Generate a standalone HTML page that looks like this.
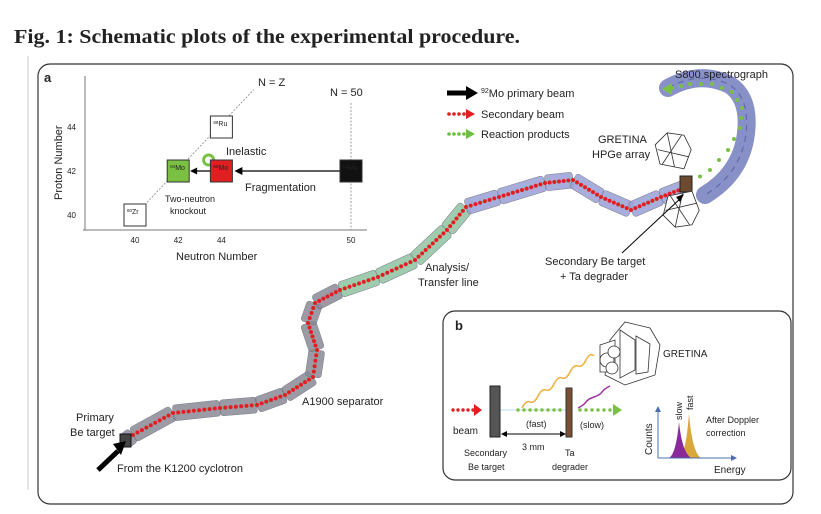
<!DOCTYPE html>
<html><head><meta charset="utf-8">
<style>
body{margin:0;background:#fff;width:821px;height:514px;overflow:hidden}
svg{display:block}
text{font-family:"Liberation Sans",sans-serif;fill:#222}
</style></head><body>
<svg id="fig" width="821" height="514" viewBox="0 0 821 514" xmlns="http://www.w3.org/2000/svg">
<text x="14" y="43" textLength="506" lengthAdjust="spacingAndGlyphs" style="font-family:'Liberation Serif',serif;font-weight:bold;font-size:20px">Fig. 1: Schematic plots of the experimental procedure.</text>
<line x1="28" y1="56" x2="28" y2="490" stroke="#ccc" stroke-width="1"/>
<rect x="38" y="64" width="755" height="440" rx="12" fill="none" stroke="#333" stroke-width="1.2"/>
<text x="44" y="82" font-size="13" font-weight="bold">a</text>

<g id="chart"></g>
<g id="beamline"></g>

<g>
  <line x1="447" y1="93" x2="468" y2="93" stroke="#000" stroke-width="5"/>
  <polygon points="466,86 478,93 466,100" fill="#000"/>
  <text x="481" y="97" font-size="11"><tspan font-size="7" dy="-4">92</tspan><tspan dy="4">Mo primary beam</tspan></text>
  <g fill="#e02020"><circle cx="449" cy="114" r="1.8"/><circle cx="454" cy="114" r="1.8"/><circle cx="459" cy="114" r="1.8"/><circle cx="464" cy="114" r="1.8"/></g>
  <polygon points="466,109 475,114 466,119" fill="#e02020"/>
  <text x="481" y="118" font-size="11">Secondary beam</text>
  <g fill="#6cc040"><circle cx="449" cy="134" r="1.8"/><circle cx="454" cy="134" r="1.8"/><circle cx="459" cy="134" r="1.8"/><circle cx="464" cy="134" r="1.8"/></g>
  <polygon points="466,129 475,134 466,139" fill="#6cc040"/>
  <text x="481" y="138" font-size="11">Reaction products</text>
</g>
<text x="675" y="78" font-size="11">S800 spectrograph</text>
<text x="598" y="143" font-size="11">GRETINA</text>
<text x="592" y="158" font-size="11">HPGe array</text>
<text x="545" y="265" font-size="11">Secondary Be target</text>
<text x="560" y="280" font-size="11">+ Ta degrader</text>
<line x1="622" y1="253" x2="682" y2="197" stroke="#000" stroke-width="1"/>
<polygon points="684,194 676,197 680,202" fill="#000"/>
<text x="425" y="271" font-size="11">Analysis/</text>
<text x="418" y="286" font-size="11">Transfer line</text>
<text x="302" y="405" font-size="11">A1900 separator</text>
<text x="76" y="421" font-size="11">Primary</text>
<text x="70" y="436" font-size="11">Be target</text>
<text x="117" y="472" font-size="11">From the K1200 cyclotron</text>
<line x1="98" y1="470" x2="118" y2="451" stroke="#000" stroke-width="5"/>
<polygon points="113,444 126,441 121,455" fill="#000"/>

<g>
<rect x="443" y="311" width="348" height="169" rx="12" fill="#fff" stroke="#333" stroke-width="1.2"/>
<text x="455" y="330" font-size="13" font-weight="bold">b</text>
<g fill="#fff" stroke="#333" stroke-width="0.8">
  <polygon points="610,340 625,322 650,328 660,345 655,375 625,385 605,375"/>
  <polygon points="600,345 615,340 615,372 600,372"/>
  <polygon points="620,330 635,340 635,370 620,378"/>
  <polygon points="636,336 650,344 648,372 636,374"/>
  <circle cx="607" cy="360" r="7"/><circle cx="614" cy="352" r="6"/><circle cx="612" cy="368" r="6"/>
</g>
<text x="663" y="357" font-size="10">GRETINA</text>
<g fill="#e02020"><circle cx="453" cy="410" r="1.7"/><circle cx="458" cy="410" r="1.7"/><circle cx="463" cy="410" r="1.7"/><circle cx="468" cy="410" r="1.7"/><circle cx="473" cy="410" r="1.7"/></g>
<polygon points="474,404 482,410 474,416" fill="#e02020"/>
<line x1="500" y1="410" x2="566" y2="410" stroke="#bde" stroke-width="1"/>
<g id="gdots" fill="#7ac143"></g>
<polygon points="613,404 622,410 613,416" fill="#7ac143"/>
<rect x="490" y="386" width="10" height="51" fill="#555" stroke="#222"/>
<rect x="566" y="388" width="6" height="49" fill="#7a5030" stroke="#333"/>
<path d="M522,408 q4,-8 8,-6 t8,-6 t8,-6 t8,-6 t8,-6 t8,-6 t8,-6 t8,-6 t8,-4" fill="none" stroke="#f0b040" stroke-width="1.5"/>
<path d="M578,408 q6,-3 8,-6 t8,-5 t8,-5 t8,-6" fill="none" stroke="#9a30a0" stroke-width="1.5"/>
<text x="453" y="434" font-size="10">beam</text>
<text x="526" y="427" font-size="9">(fast)</text>
<text x="580" y="428" font-size="9">(slow)</text>
<line x1="503" y1="434" x2="564" y2="434" stroke="#000" stroke-width="1"/>
<polygon points="501,434 507,431 507,437" fill="#000"/><polygon points="566,434 560,431 560,437" fill="#000"/>
<text x="522" y="450" font-size="9">3 mm</text>
<text x="464" y="456" font-size="9">Secondary</text>
<text x="468" y="470" font-size="9">Be target</text>
<text x="565" y="456" font-size="9">Ta</text>
<text x="552" y="470" font-size="9">degrader</text>
<g id="spectrum"></g>
</g>
</svg>
<script>
const nuclideN = [40, 42, 44, 44, 50];
const nuclideZ = [40, 42, 42, 44, 42];
const nuclideLabel = ["80Zr", "84Mo", "86Mo", "88Ru", "92Mo"];
const nuclideFill = ["#fff", "#7ac143", "#e02020", "#fff", "#111"];
const xTicks = [40, 42, 44, 50];
const yTicks = [40, 42, 44];
const NS = "http://www.w3.org/2000/svg";
function mk(tag, attrs, parent){const e=document.createElementNS(NS,tag);for(const k in attrs)e.setAttribute(k,attrs[k]);parent.appendChild(e);return e;}
const xs = n => 135 + (n-40)*21.6;
const ys = z => 215 - (z-40)*22;
const chart = document.getElementById('chart');
mk('line',{x1:85,y1:76,x2:85,y2:230,stroke:'#777','stroke-width':1},chart);
mk('line',{x1:83,y1:230,x2:367,y2:230,stroke:'#777','stroke-width':1},chart);
mk('line',{x1:xs(40),y1:ys(40),x2:xs(45.5),y2:ys(45.7),stroke:'#888','stroke-width':0.8,'stroke-dasharray':'2,1.5'},chart);
mk('line',{x1:xs(50),y1:103,x2:xs(50),y2:230,stroke:'#888','stroke-width':0.8,'stroke-dasharray':'2,1.5'},chart);
xTicks.forEach(v=>{const t=mk('text',{x:xs(v),y:243,'font-size':8,'text-anchor':'middle'},chart);t.textContent=v;

});
yTicks.forEach(v=>{const t=mk('text',{x:76,y:ys(v)+3,'font-size':8,'text-anchor':'end'},chart);t.textContent=v;

});
let t=mk('text',{x:176,y:260,'font-size':11},chart);t.textContent='Neutron Number';


t=mk('text',{x:0,y:0,'font-size':11,transform:'translate(62,200) rotate(-90)'},chart);t.textContent='Proton Number';


t=mk('text',{x:258,y:86,'font-size':11},chart);t.textContent='N = Z';
t=mk('text',{x:330,y:96,'font-size':11},chart);t.textContent='N = 50';
mk('line',{x1:xs(49.5),y1:ys(42),x2:xs(44.8),y2:ys(42),stroke:'#000','stroke-width':1.2},chart);
mk('polygon',{points:`${xs(44.6)},${ys(42)} ${xs(44.6)+8},${ys(42)-4} ${xs(44.6)+8},${ys(42)+4}`,fill:'#000'},chart);
mk('line',{x1:xs(43.5),y1:ys(42),x2:xs(42.7),y2:ys(42),stroke:'#000','stroke-width':1.2},chart);
mk('polygon',{points:`${xs(42.55)},${ys(42)} ${xs(42.55)+7},${ys(42)-3.5} ${xs(42.55)+7},${ys(42)+3.5}`,fill:'#000'},chart);
mk('circle',{cx:xs(43.5)-2,cy:ys(42)-11,r:5,fill:'none',stroke:'#7ac143','stroke-width':3},chart);
t=mk('text',{x:226,y:155,'font-size':11},chart);t.textContent='Inelastic';
t=mk('text',{x:245,y:191,'font-size':11},chart);t.textContent='Fragmentation';
t=mk('text',{x:165,y:202,'font-size':9},chart);t.textContent='Two-neutron';
t=mk('text',{x:170,y:214,'font-size':9},chart);t.textContent='knockout';
nuclideN.forEach((n,i)=>{
  const r=mk('rect',{x:xs(n)-11,y:ys(nuclideZ[i])-11,width:22,height:22,fill:nuclideFill[i],stroke:'#333','stroke-width':1},chart);
  
  
  const col = nuclideFill[i]==='#fff' ? '#333' : '#eee';
  const m = nuclideLabel[i].match(/(\d+)(\D+)/);
  const tx=mk('text',{x:xs(n)-8,y:ys(nuclideZ[i])-1,'font-size':7,fill:col},chart);
  tx.innerHTML=`<tspan font-size="4.5" dy="-2">${m[1]}</tspan><tspan dy="2">${m[2]}</tspan>`;
  
  
});

const pathX = [125,133,173,220,257,285,313,317,308,315,340,378,415,447,466,499,545,573,601,631,661,687];
const pathY = [441,435,413,408,405,395,377,350,323,303,290,277,260,230,207,197,183,180,197,210,197,187];
const bl = document.getElementById('beamline');
mk('path',{d:'M668,88 Q700,70 730,85 Q752,100 745,140 Q738,175 705,195',fill:'none',stroke:'#8890c8','stroke-width':18,'stroke-linecap':'round'},bl);
mk('path',{d:'M668,88 Q700,70 730,85 Q752,100 745,140 Q738,175 705,195',fill:'none',stroke:'#5a64a8','stroke-width':1,'stroke-dasharray':'6,5'},bl);
for(let i=1;i<pathX.length;i++){
  const x0=pathX[i-1],y0=pathY[i-1],x1=pathX[i],y1=pathY[i];
  const a=Math.atan2(y1-y0,x1-x0)*180/Math.PI;
  const mx=(x0+x1)/2,my=(y0+y1)/2,len=Math.hypot(x1-x0,y1-y0);
  const col = mx<330 ? '#8a8a96' : (mx<480 ? '#8fc4a0' : '#9aa0d6');
  const e=mk('rect',{x:-len/2,y:-8,width:len,height:16,rx:3,fill:col,stroke:'#667','stroke-width':0.5,opacity:0.85,transform:`translate(${mx},${my}) rotate(${a})`},bl);
  
  
}
for(let i=1;i<pathX.length;i++){
  const x0=pathX[i-1],y0=pathY[i-1],x1=pathX[i],y1=pathY[i];
  const n=Math.max(1,Math.round(Math.hypot(x1-x0,y1-y0)/5));
  for(let k=0;k<n;k++){mk('circle',{cx:x0+(x1-x0)*k/n,cy:y0+(y1-y0)*k/n,r:2,fill:'#e02020'},bl);}
}
const gx=[690,710,728,740,742,732,712,690,672];
const gy=[183,170,150,128,108,92,84,84,88];
for(let i=0;i<gx.length;i++)mk('circle',{cx:gx[i],cy:gy[i],r:2,fill:'#7ac143'},bl);
for(let i=1;i<gx.length;i++){mk('circle',{cx:(gx[i]+gx[i-1])/2,cy:(gy[i]+gy[i-1])/2,r:2,fill:'#7ac143'},bl);}
mk('polygon',{points:'662,89 672,83 672,95',fill:'#7ac143'},bl);
mk('rect',{x:120,y:434,width:11,height:13,fill:'#444',stroke:'#111'},bl);
mk('rect',{x:680,y:176,width:12,height:16,fill:'#6b4a30',stroke:'#222'},bl);
[[672,152,1],[680,208,-1]].forEach(([cx,cy,s])=>{
  const g=mk('g',{transform:`translate(${cx},${cy}) scale(1.2,${1.2*s})`,fill:'#fff',stroke:'#333','stroke-width':0.7},bl);
  
  
  mk('polygon',{points:'-10,10 -14,-6 -4,-16 10,-14 16,-2 10,14',fill:'#fff'},g);
  mk('line',{x1:-12,y1:-2,x2:14,y2:4},g);mk('line',{x1:-4,y1:-16,x2:2,y2:12},g);mk('line',{x1:8,y1:-14,x2:-8,y2:10},g);
});

const gd=document.getElementById('gdots');
[518,524,530,536,542,548,554,560,580,586,592,598,604,610].forEach(x=>mk('circle',{cx:x,cy:410,r:1.7},gd));

const peakE = [679, 689];
const peakH = [36, 45];
const peakCol = ["#8a2a9a", "#d9a83a"];
const sp=document.getElementById('spectrum');
const base=458;
[1,0].forEach(i=>{
  const c=peakE[i],h=peakH[i];
  const p=mk('path',{d:`M${c-10},${base} Q${c-3},${base-4} ${c},${base-h} Q${c+3},${base-6} ${c+12},${base} Z`,fill:peakCol[i]},sp);
  
  
});
mk('line',{x1:658,y1:458,x2:733,y2:458,stroke:'#4a6fb0','stroke-width':1},sp);
mk('polygon',{points:'737,458 731,455 731,461',fill:'#4a6fb0'},sp);
mk('line',{x1:658,y1:458,x2:658,y2:410,stroke:'#4a6fb0','stroke-width':1},sp);
mk('polygon',{points:'658,406 655,412 661,412',fill:'#4a6fb0'},sp);
let s=mk('text',{'font-size':10,transform:'translate(652,455) rotate(-90)'},sp);s.textContent='Counts';
s=mk('text',{'font-size':9,transform:'translate(682,420) rotate(-90)'},sp);s.textContent='slow';
s=mk('text',{'font-size':9,transform:'translate(693,410) rotate(-90)'},sp);s.textContent='fast';
s=mk('text',{x:706,y:423,'font-size':9},sp);s.textContent='After Doppler';
s=mk('text',{x:706,y:436,'font-size':9},sp);s.textContent='correction';
s=mk('text',{x:714,y:473,'font-size':10},sp);s.textContent='Energy';
</script>
</body></html>
